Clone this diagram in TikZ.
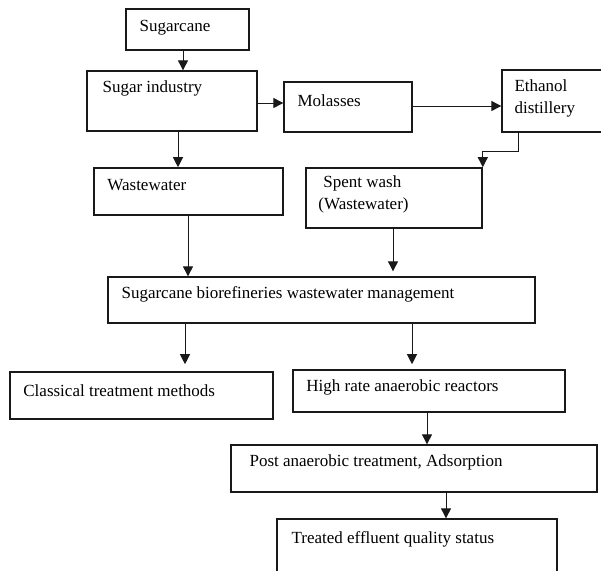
\documentclass[tikz,border=0pt]{standalone}
\usepackage{fontspec}
\setmainfont{Liberation Serif}
\usetikzlibrary{arrows.meta,calc}
\begin{document}
\begin{tikzpicture}[x=1pt,y=-1pt,
  box/.style={draw=black!90,line width=1.3pt,rectangle,inner sep=0pt,minimum width=#1},
  boxb/.style={box=#1,line width=1.6pt},
  txt/.style={inner sep=0pt,anchor=west,align=left,text=black,font=\fontsize{17}{22}\selectfont},
  arr/.style={draw=black!90,line width=0.9pt,-{Triangle[length=10pt,width=10pt]}}]
\clip (0,0) rectangle (601,570);
\fill[white] (0,0) rectangle (601,570);
% boxes (left, top, right, bottom)
\node[box=123pt,minimum height=41pt] (cane) at (187.5,29.5) {};
\node[box=170pt,minimum height=60pt] (ind) at (172,101) {};
\node[box=128pt,minimum height=50pt] (mol) at (348,107) {};
\node[box=118pt,minimum height=62pt] (eth) at (561,101) {};
\node[boxb=189pt,minimum height=47pt] (ww) at (188.5,191.5) {};
\node[boxb=176pt,minimum height=60pt] (spent) at (394,198) {};
\node[box=427pt,minimum height=46pt] (mgmt) at (321.5,300) {};
\node[boxb=263pt,minimum height=47pt] (cls) at (141.5,395.5) {};
\node[boxb=272pt,minimum height=42pt] (high) at (429,391) {};
\node[box=366pt,minimum height=47pt] (post) at (414,468.5) {};
\node[box=280pt,minimum height=71pt] (trt) at (417,554.5) {};
% texts
\node[txt] (tcane) at ($(cane.north west)+(14,19)$) {Sugarcane};
\node[txt] (tind) at ($(ind.north west)+(16,18)$) {Sugar industry};
\node[txt] (tmol) at ($(mol.north west)+(14,19)$) {Molasses};
\node[txt] (teth) at ($(eth.north west)+(13,29.5)$) {Ethanol\\distillery};
\node[txt] (tww) at ($(ww.north west)+(14,18)$) {Wastewater};
\node[txt] (tspent) at ($(spent.north west)+(13,27)$) {\hspace*{5pt}Spent wash\\(Wastewater)};
\node[txt] (tmgmt) at ($(mgmt.north west)+(14,18)$) {Sugarcane biorefineries wastewater management};
\node[txt] (tcls) at ($(cls.north west)+(14,19)$) {Classical treatment methods};
\node[txt] (thigh) at ($(high.north west)+(14,18)$) {High rate anaerobic reactors};
\node[txt] (tpost) at ($(post.north west)+(19,18)$) {Post anaerobic treatment, Adsorption};
\node[txt] (ttrt) at ($(trt.north west)+(15,21)$) {Treated effluent quality status};
% connectors
\draw[arr] (cane.south -| 183,0) -- (ind.north -| 183,0);
\draw[arr] (ind.east |- 0,103) -- (mol.west |- 0,103);
\draw[arr] (mol.east |- 0,106) -- (eth.west |- 0,106);
\draw[arr] (ind.south -| 178,0) -- (ww.north -| 178,0);
\draw[arr] (eth.south -| 518,0) -- (518,151) -| (spent.north east);
\draw[arr] (ww.south -| 188,0) -- (mgmt.north -| 188,0);
\draw[arr,shorten >=5pt] (spent.south -| 393,0) -- (mgmt.north -| 393,0);
\draw[arr,shorten >=7pt] (mgmt.south -| 185,0) -- (cls.north -| 185,0);
\draw[arr,shorten >=5pt] (mgmt.south -| 412,0) -- (high.north -| 412,0);
\draw[arr] (high.south -| 427,0) -- (post.north -| 427,0);
\draw[arr] (post.south -| 446,0) -- (trt.north -| 446,0);
\end{tikzpicture}
\end{document}
